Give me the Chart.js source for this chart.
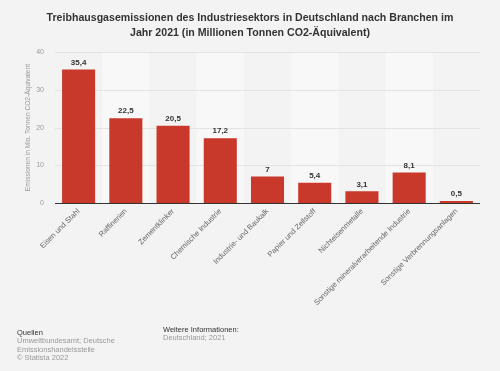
<!DOCTYPE html>
<html>
<head>
<meta charset="utf-8">
<script src="https://cdn.jsdelivr.net/npm/chart.js@4"></script>
<style>
  body { margin: 0; background: #f3f3f3; font-family: "Liberation Sans", Arial, sans-serif; }
  #wrap { position: relative; width: 500px; height: 371px; }
  .foot { position: absolute; font-size: 7.5px; line-height: 8.3px; color: #999; }
  .foot b { font-weight: normal; color: #333; }
</style>
</head>
<body>
<div id="wrap">
  <canvas id="chart" width="500" height="371"></canvas>
  <div class="foot" style="left:17px; top:329px;"><b>Quellen</b><br>Umweltbundesamt; Deutsche<br>Emissionshandelsstelle<br>© Statista 2022</div>
  <div class="foot" style="left:163px; top:326px;"><b>Weitere Informationen:</b><br>Deutschland; 2021</div>
</div>
<script>
const branchen = ["Eisen und Stahl", "Raffinerien", "Zementklinker", "Chemische Industrie",
                  "Industrie- und Baukalk", "Papier und Zellstoff", "Nichteisenmetalle",
                  "Sonstige mineralverarbeitende Industrie", "Sonstige Verbrennungsanlagen"];
const emissionen = [35.4, 22.5, 20.5, 17.2, 7, 5.4, 3.1, 8.1, 0.5];
const yTicks = [0, 10, 20, 30, 40];

const barColor = "#c9392b";

// abwechselnd hellere Spalten hinter den Balken
const bands = {
  id: "bands",
  beforeDatasetsDraw(chart) {
    const { ctx, chartArea, scales } = chart;
    const step = (chartArea.right - chartArea.left) / branchen.length;
    ctx.save();
    ctx.fillStyle = "#f8f8f8";
    for (let i = 1; i < branchen.length; i += 2) {
      ctx.fillRect(chartArea.left + i * step, chartArea.top, step, chartArea.bottom - chartArea.top);
    }
    // Gitterlinien neu darüber
    ctx.strokeStyle = "#e3e3e3";
    ctx.lineWidth = 1;
    yTicks.slice(1).forEach(t => {
      const y = Math.round(scales.y.getPixelForValue(t)) + 0.5;
      ctx.beginPath();
      ctx.moveTo(chartArea.left, y);
      ctx.lineTo(chartArea.right, y);
      ctx.stroke();
    });
    ctx.restore();
  }
};

// Werte über den Balken
const valueLabels = {
  id: "valueLabels",
  afterDatasetsDraw(chart) {
    const { ctx } = chart;
    ctx.save();
    ctx.font = "bold 8px 'Liberation Sans', Arial, sans-serif";
    ctx.fillStyle = "#333";
    ctx.textAlign = "center";
    ctx.textBaseline = "bottom";
    chart.getDatasetMeta(0).data.forEach((bar, i) => {
      ctx.fillText(String(emissionen[i]).replace(".", ","), bar.x, bar.y - 3);
    });
    // Nulllinie
    const y0 = Math.round(chart.scales.y.getPixelForValue(0)) + 0.5;
    ctx.strokeStyle = "#333";
    ctx.beginPath();
    ctx.moveTo(chart.chartArea.left, y0);
    ctx.lineTo(chart.chartArea.right, y0);
    ctx.stroke();
    ctx.restore();
  }
};

new Chart("chart", {
  type: "bar",
  data: {
    labels: branchen,
    datasets: [{
      data: emissionen,
      backgroundColor: barColor,
      barPercentage: 0.7,
      categoryPercentage: 1
    }]
  },
  plugins: [bands, valueLabels],
  options: {
    responsive: false,
    animation: false,
    layout: { padding: { left: 20, right: 20, top: 0, bottom: 0 } },
    plugins: {
      legend: { display: false },
      tooltip: { enabled: false },
      title: {
        display: true,
        text: ["Treibhausgasemissionen des Industriesektors in Deutschland nach Branchen im",
               "Jahr 2021 (in Millionen Tonnen CO2-Äquivalent)"],
        color: "#333",
        font: { family: "'Liberation Sans', Arial, sans-serif", size: 10.6, weight: "bold", lineHeight: 1.38 },
        padding: { top: 11, bottom: 12 }
      }
    },
    scales: {
      x: {
        grid: { display: false, drawTicks: false },
        border: { display: false },
        ticks: {
          color: "#666",
          font: { family: "'Liberation Sans', Arial, sans-serif", size: 7.5 },
          minRotation: 45, maxRotation: 45,
          autoSkip: false,
          padding: 4
        },
        afterFit(scale) { scale.height = 168; }
      },
      y: {
        min: 0, max: 40,
        grid: { display: false, drawTicks: false },
        border: { display: false },
        ticks: {
          stepSize: 10,
          color: "#999",
          padding: 11,
          font: { family: "'Liberation Sans', Arial, sans-serif", size: 7 }
        },
        title: {
          display: true,
          text: "Emissionen in Mio. Tonnen CO2-Äquivalent",
          color: "#999",
          font: { family: "'Liberation Sans', Arial, sans-serif", size: 6.6 },
          padding: { top: 4, bottom: 0 }
        },
        afterFit(scale) { scale.width = 35; }
      }
    }
  }
});
</script>
</body>
</html>
